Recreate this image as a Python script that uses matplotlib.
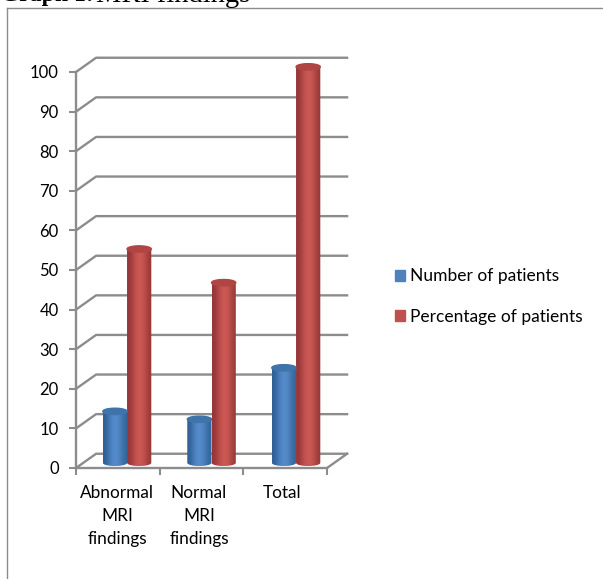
import matplotlib.pyplot as plt
import numpy as np
from matplotlib.lines import Line2D
from matplotlib.patches import Patch, PathPatch
from matplotlib.path import Path

plt.rcParams["font.family"] = ["Lato", "DejaVu Sans"]

categories = ["Abnormal\nMRI\nfindings", "Normal\nMRI\nfindings", "Total"]
number_of_patients = [13, 11, 24]
percentage_of_patients = [54, 45.5, 100]
y_ticks = list(range(0, 101, 10))

W, H = 603, 579
GRID = "#8c8c8c"
DEPTH_X = 0.24
DEPTH_Y = 3.6
BAR_W = 0.29
CAP = 0.8
BLUE = ["#2f5f94", "#4a80bf", "#5a90d0", "#4a7fbc", "#336599"]
BLUE_TOP = "#3f74ab"
RED = ["#93353a", "#bd4d4a", "#d05c58", "#c0504d", "#963a38"]
RED_TOP = "#b04643"


def hex_rgb(c):
    return [int(c[i : i + 2], 16) / 255 for i in (1, 3, 5)]


def cylinder(ax, cx, value, colors, top_color):
    x0 = cx - BAR_W / 2
    x1 = cx + BAR_W / 2
    y0 = DEPTH_Y / 2 - 0.5
    y1 = value + y0
    t = np.linspace(0, np.pi, 40)
    xs = cx + BAR_W / 2 * np.cos(t)
    body = np.r_[
        np.c_[xs, y1 + CAP * np.sin(t)],
        np.c_[xs[::-1], y0 - CAP * np.sin(t)[::-1]],
        [[xs[0], y1]],
    ]
    clip = PathPatch(Path(body), transform=ax.transData, fc="none", ec="none")
    ax.add_patch(clip)
    grad = np.array([hex_rgb(c) for c in colors])[None, :, :]
    im = ax.imshow(
        grad,
        extent=(x0, x1, y0 - CAP, y1 + CAP),
        aspect="auto",
        interpolation="bicubic",
        zorder=3,
    )
    im.set_clip_path(clip)
    im.set_clip_box(ax.figure.bbox)
    tt = np.linspace(0, 2 * np.pi, 60)
    ax.fill(
        cx + BAR_W / 2 * np.cos(tt),
        y1 + CAP * np.sin(tt),
        color=top_color,
        zorder=4,
        clip_on=False,
    )


fig = plt.figure(figsize=(W / 100, H / 100), dpi=100)
ax = fig.add_axes([76 / W, 1 - 468 / H, (327 - 76) / W, (468 - 72) / H])

# outer chart frame
fig.add_artist(Line2D([7 / W, 7 / W], [0, 1 - 8 / H], color=GRID, lw=1))
fig.add_artist(Line2D([7 / W, 1], [1 - 8 / H, 1 - 8 / H], color=GRID, lw=1))

# back wall and floor
for v in y_ticks:
    ax.plot(
        [0, DEPTH_X, 3 + DEPTH_X],
        [v, v + DEPTH_Y, v + DEPTH_Y],
        color=GRID,
        lw=1.7,
        clip_on=False,
        zorder=1,
    )
ax.plot(
    [3, 3 + DEPTH_X], [0, DEPTH_Y], color=GRID, lw=1.7, clip_on=False, zorder=1
)

for i in range(len(categories)):
    center = i * 1.01 + 0.5 + DEPTH_X / 2 - 0.01
    cylinder(ax, center - BAR_W / 2, number_of_patients[i], BLUE, BLUE_TOP)
    cylinder(ax, center + BAR_W / 2, percentage_of_patients[i], RED, RED_TOP)

ax.set_xlim(0, 3)
ax.set_ylim(0, 100)
ax.patch.set_visible(False)
for side in ["top", "right"]:
    ax.spines[side].set_visible(False)
for side in ["left", "bottom"]:
    ax.spines[side].set_color(GRID)
    ax.spines[side].set_linewidth(1.7)

ax.set_yticks(y_ticks)
ax.set_xticks([0, 1, 2, 3], labels=[])
ax.set_xticks([0.49, 1.47, 2.46], labels=categories, minor=True)
ax.tick_params(axis="y", length=5, width=1.5, color=GRID, labelsize=12, pad=7.5)
ax.tick_params(axis="x", which="major", length=5, width=1.5, color=GRID)
ax.tick_params(axis="x", which="minor", length=0, labelsize=12.4, pad=12)
for label in ax.get_xticklabels(minor=True):
    label.set_linespacing(1.55)

handles = [
    Patch(color="#4f81bd", label="Number of patients"),
    Patch(color="#c0504d", label="Percentage of patients"),
]
fig.legend(
    handles=handles,
    loc="center left",
    bbox_to_anchor=(379 / W, 1 - 296.5 / H),
    frameon=False,
    fontsize=12.5,
    handlelength=0.62,
    handleheight=0.62,
    handletextpad=0.25,
    labelspacing=1.4,
)

# the caption is cut by the top edge of the picture
fig.text(
    1 / W,
    1 - 1.5 / H,
    "Graph 1:",
    family="Liberation Serif",
    fontsize=17,
    fontweight="bold",
    va="baseline",
    color="black",
)
fig.text(
    96 / W,
    1 - 1.5 / H,
    "MRI findings",
    family="Liberation Serif",
    fontsize=20.5,
    va="baseline",
    color="black",
)

fig.savefig("out.png", dpi=100)
